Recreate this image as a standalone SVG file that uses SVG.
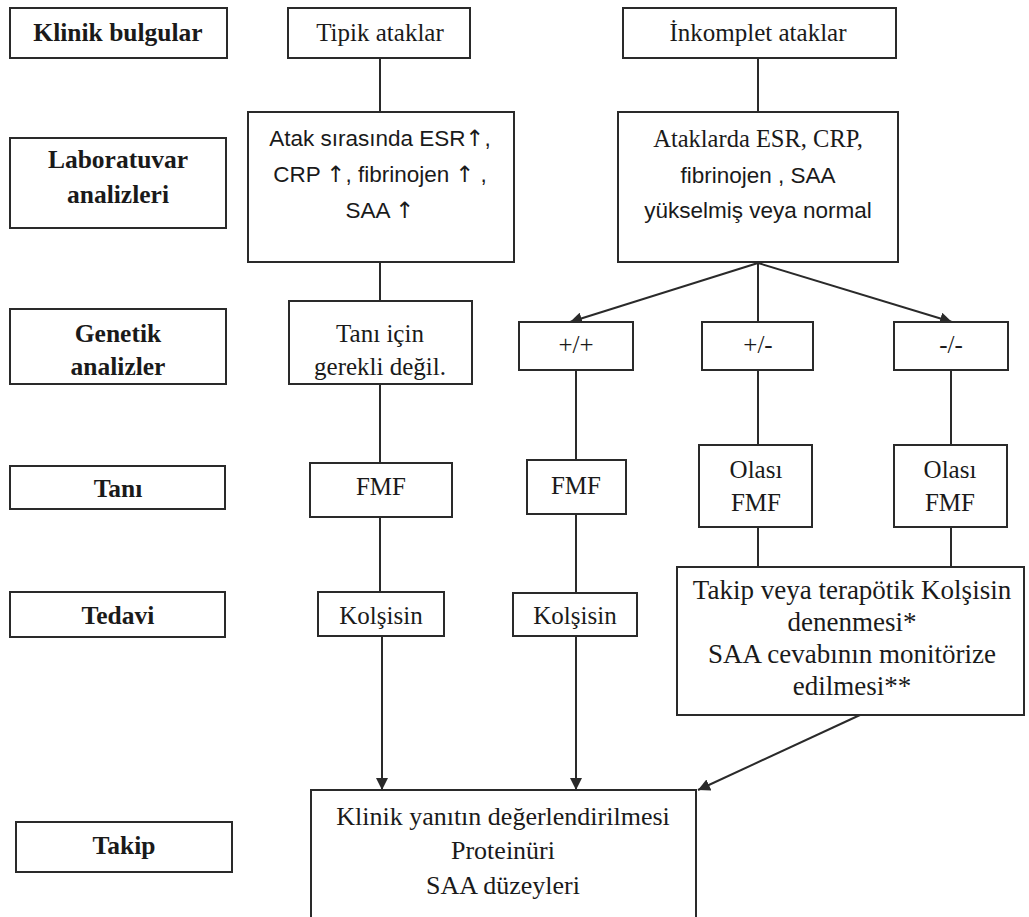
<svg xmlns="http://www.w3.org/2000/svg" width="1029" height="917" viewBox="0 0 1029 917">
<style>
.b{fill:#fff;stroke:#2a2a2a;stroke-width:2}
.t{font-family:"Liberation Serif","Times New Roman",serif;font-size:25px;fill:#1a1a1a;text-anchor:middle}
.tl{font-size:26px}
.tx{font-size:27px}
.h{font-family:"Liberation Serif","Times New Roman",serif;font-size:25.5px;font-weight:bold;fill:#1a1a1a;text-anchor:middle}
.s{font-family:"Liberation Sans",Arial,sans-serif;font-size:22.5px;fill:#1a1a1a;text-anchor:middle}
.ar{font-family:"DejaVu Sans",sans-serif;fill:#1a1a1a}
.c{fill:none;stroke:#2a2a2a;stroke-width:2}
</style>
<defs>
<marker id="ah" viewBox="0 0 10 10" refX="10" refY="5" markerWidth="6" markerHeight="6" orient="auto" markerUnits="strokeWidth">
<path d="M0,0 L10,5 L0,10 z" fill="#2a2a2a"/>
</marker>
</defs>
<rect width="1029" height="917" fill="#fff"/>
<g id="connectors">
<line class="c" x1="380" y1="58" x2="380" y2="112"/>
<line class="c" x1="758" y1="58" x2="758" y2="112"/>
<line class="c" x1="380" y1="262" x2="380" y2="301"/>
<line class="c" x1="758" y1="263" x2="570" y2="322" marker-end="url(#ah)"/>
<line class="c" x1="758" y1="263" x2="758" y2="322"/>
<line class="c" x1="758" y1="263" x2="952" y2="322" marker-end="url(#ah)"/>
<line class="c" x1="380" y1="384" x2="380" y2="463"/>
<line class="c" x1="576" y1="370" x2="576" y2="460"/>
<line class="c" x1="758" y1="370" x2="758" y2="445"/>
<line class="c" x1="951" y1="370" x2="951" y2="445"/>
<line class="c" x1="380" y1="517" x2="380" y2="592"/>
<line class="c" x1="576" y1="514" x2="576" y2="593"/>
<line class="c" x1="758" y1="527" x2="758" y2="567"/>
<line class="c" x1="951" y1="527" x2="951" y2="567"/>
<line class="c" x1="382" y1="636" x2="382" y2="790" marker-end="url(#ah)"/>
<line class="c" x1="576" y1="636" x2="576" y2="790" marker-end="url(#ah)"/>
<line class="c" x1="860" y1="715" x2="698" y2="790" marker-end="url(#ah)"/>
</g>
<g id="lbl-klinik"><rect class="b" x="10" y="8" width="217" height="50"/><text class="h" x="118" y="41">Klinik bulgular</text></g>
<g id="lbl-lab"><rect class="b" x="10" y="138" width="216" height="90"/><text class="h" x="118" y="168">Laboratuvar</text><text class="h" x="118" y="203">analizleri</text></g>
<g id="lbl-genetik"><rect class="b" x="10" y="309" width="216" height="75"/><text class="h" x="118" y="342">Genetik</text><text class="h" x="118" y="375">analizler</text></g>
<g id="lbl-tani"><rect class="b" x="10" y="466" width="215" height="43"/><text class="h" x="118" y="497">Tanı</text></g>
<g id="lbl-tedavi"><rect class="b" x="10" y="592" width="215" height="45"/><text class="h" x="118" y="624">Tedavi</text></g>
<g id="lbl-takip"><rect class="b" x="16" y="822" width="216" height="50"/><text class="h" x="124" y="854">Takip</text></g>
<g id="tipik"><rect class="b" x="288" y="8" width="182" height="50"/><text class="t" x="380" y="41">Tipik ataklar</text></g>
<g id="inkomplet"><rect class="b" x="623" y="8" width="273" height="50"/><text class="t" x="758" y="41">İnkomplet ataklar</text></g>
<g id="atak-lab"><rect class="b" x="248" y="112" width="266" height="150"/>
<text class="s" x="380" y="146">Atak sırasında ESR<tspan class="ar">↑</tspan>,</text>
<text class="s" x="380" y="182">CRP <tspan class="ar">↑</tspan>, fibrinojen <tspan class="ar">↑</tspan> ,</text>
<text class="s" x="380" y="218">SAA <tspan class="ar">↑</tspan></text></g>
<g id="ataklarda-lab"><rect class="b" x="618" y="112" width="280" height="150"/>
<text class="t" x="758" y="147" style="font-size:24.5px">Ataklarda ESR, CRP,</text>
<text class="s" x="758" y="183">fibrinojen  , SAA</text>
<text class="s" x="758" y="218">yükselmiş veya normal</text></g>
<g id="tani-icin"><rect class="b" x="289" y="301" width="183" height="83"/><text class="t" x="380" y="342">Tanı için</text><text class="t" x="380" y="375">gerekli değil.</text></g>
<g id="pp"><rect class="b" x="519" y="322" width="114" height="48"/><text class="t" x="576" y="353">+/+</text></g>
<g id="pm"><rect class="b" x="702" y="322" width="111" height="48"/><text class="t" x="758" y="353">+/-</text></g>
<g id="mm"><rect class="b" x="894" y="322" width="114" height="48"/><text class="t" x="951" y="353">-/-</text></g>
<g id="fmf1"><rect class="b" x="310" y="463" width="142" height="54"/><text class="t" x="381" y="495">FMF</text></g>
<g id="fmf2"><rect class="b" x="527" y="460" width="99" height="54"/><text class="t" x="576" y="494">FMF</text></g>
<g id="olasi1"><rect class="b" x="699" y="445" width="113" height="82"/><text class="t" x="756" y="478">Olası</text><text class="t" x="756" y="511">FMF</text></g>
<g id="olasi2"><rect class="b" x="894" y="445" width="113" height="82"/><text class="t" x="950" y="478">Olası</text><text class="t" x="950" y="511">FMF</text></g>
<g id="kol1"><rect class="b" x="318" y="592" width="126" height="44"/><text class="t" x="381" y="624">Kolşisin</text></g>
<g id="kol2"><rect class="b" x="513" y="593" width="124" height="43"/><text class="t" x="575" y="624">Kolşisin</text></g>
<g id="takip-veya"><rect class="b" x="677" y="567" width="347" height="148"/>
<text class="t tx" x="852" y="599">Takip veya terapötik Kolşisin</text>
<text class="t tx" x="852" y="631">denenmesi*</text>
<text class="t tx" x="852" y="663">SAA cevabının monitörize</text>
<text class="t tx" x="852" y="695">edilmesi**</text></g>
<g id="takip-box"><rect class="b" x="311" y="790" width="385" height="140"/>
<text class="t tl" x="503" y="825">Klinik yanıtın değerlendirilmesi</text>
<text class="t tl" x="503" y="859">Proteinüri</text>
<text class="t tl" x="503" y="894">SAA düzeyleri</text></g>
</svg>
